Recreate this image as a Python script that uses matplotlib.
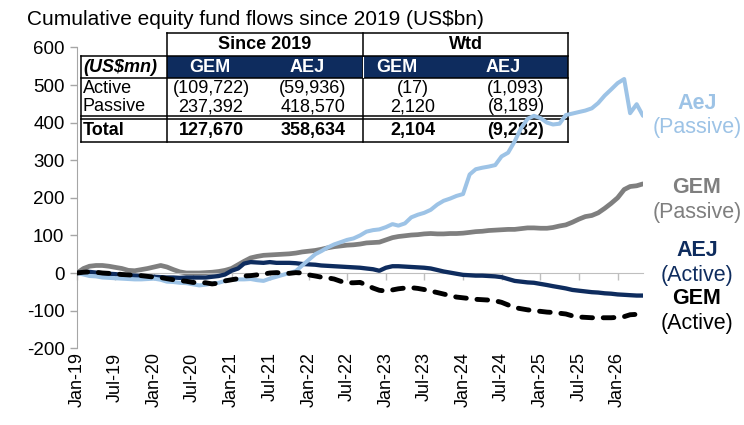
import matplotlib
matplotlib.use('Agg')
import matplotlib.pyplot as plt
import matplotlib.dates as mdates
from matplotlib.patches import Rectangle
import pandas as pd

plt.rcParams['font.family'] = ['Liberation Sans', 'DejaVu Sans']
plt.rcParams['axes.unicode_minus'] = False

# monthly readings, Jan-19 .. May-26 (US$bn)
dates = pd.date_range('2019-01-01', periods=89, freq='MS')

gem_passive = [0, 12, 18, 20, 20, 18, 15, 12, 7, 6,
               9, 12, 16, 20, 16, 9, 3, 0, 0, 0,
               1, 2, 4, 7, 12, 22, 31, 40, 44, 47,
               48, 49, 50, 51, 53, 56, 58, 60, 63, 67,
               70, 72, 74, 75, 77, 80, 81, 82, 88, 94,
               97, 99, 101, 102, 104, 105, 104, 104, 105, 105,
               106, 108, 110, 111, 113, 114, 115, 116, 116, 118,
               120, 120, 119, 119, 121, 125, 128, 135, 143, 150,
               153, 160, 172, 185, 200, 222, 230, 232, 237]
aej_passive = [0, -4, -8, -9, -12, -13, -14, -15, -16, -17,
               -17, -16, -15, -18, -23, -24, -26, -27, -30, -33,
               -31, -28, -26, -21, -18, -17, -17, -16, -19, -21,
               -15, -10, -5, 0, 5, 20, 35, 50, 58, 68,
               76, 82, 88, 92, 100, 110, 114, 116, 122, 130,
               126, 132, 148, 155, 160, 168, 182, 192, 198, 205,
               210, 262, 276, 280, 283, 287, 310, 320, 350, 385,
               410, 418, 412, 400, 395, 397, 420, 424, 428, 432,
               438, 452, 472, 488, 505, 516, 425, 449, 418]
aej_active = [0, 2, 3, 1, -1, -2, -3, -5, -6, -7,
              -8, -10, -10, -11, -12, -12, -13, -12, -12, -12,
              -12, -10, -8, -4, 6, 12, 25, 29, 28, 27,
              29, 27, 27, 27, 26, 24, 23, 22, 20, 19,
              18, 17, 16, 15, 14, 12, 10, 6, 14, 18,
              18, 17, 16, 15, 14, 12, 8, 4, 1, -2,
              -5, -6, -7, -7, -8, -9, -11, -16, -21, -23,
              -25, -26, -29, -32, -35, -38, -41, -45, -47, -49,
              -51, -52, -54, -55, -57, -58, -59, -60, -60]
gem_active = [0, 2, 3, 2, 0, -1, -2, -4, -5, -6,
              -7, -9, -11, -12, -15, -18, -20, -22, -25, -26,
              -26, -29, -27, -21, -18, -15, -8, -7, -5, -3,
              0, 1, 0, -1, 1, 0, -5, -8, -11, -13,
              -16, -22, -26, -26, -25, -32, -40, -46, -48, -45,
              -42, -40, -39, -41, -44, -48, -52, -56, -60, -64,
              -66, -68, -70, -71, -72, -74, -78, -85, -92, -95,
              -98, -100, -102, -104, -105, -107, -109, -114, -117, -118,
              -119, -119, -119, -119, -118, -116, -111, -110, -110]

tick_dates = pd.date_range('2019-01-01', '2026-01-01', freq='6MS')

# table (US$mn)
row_labels = ['Active', 'Passive', 'Total']
since_gem = [-109722, 237392, 127670]
since_aej = [-59936, 418570, 358634]
wtd_gem = [-17, 2120, 2104]
wtd_aej = [-1093, -8189, -9282]

LIGHT = '#9DC3E6'
GRAY = '#7F7F7F'
NAVY = '#0E2C5E'
AXIS = '#A6A6A6'

right_labels = [('AeJ', '(Passive)', LIGHT, 103, 127),
                ('GEM', '(Passive)', GRAY, 187, 212),
                ('AEJ', '(Active)', NAVY, 250, 275),
                ('GEM', '(Active)', 'black', 298, 323)]


def fmt(v):
    s = f'{abs(v):,}'
    return f'({s})' if v < 0 else s


W, H = 744, 425
fig = plt.figure(figsize=(W / 100, H / 100), dpi=100)

# overlay in pixel coordinates for title, table and labels
ov = fig.add_axes([0, 0, 1, 1], zorder=1)
ov.set_xlim(0, W)
ov.set_ylim(H, 0)
ov.axis('off')

ax = fig.add_axes([77 / W, 1 - 348.2 / H, 566 / W, 300.8 / H], zorder=2)
ax.patch.set_visible(False)

ax.plot(dates, gem_passive, color=GRAY, lw=3.4, solid_capstyle='round', zorder=2)
ax.plot(dates, aej_active, color=NAVY, lw=3.1, solid_capstyle='round', zorder=3)
ax.plot(dates, aej_passive, color=LIGHT, lw=2.9, solid_capstyle='round', zorder=4)
ax.plot(dates, gem_active, color='black', lw=3.5, ls=(0, (2.2, 2.2)),
        dash_capstyle='round', zorder=5)

ax.set_ylim(-200, 600)
ax.set_yticks(range(-200, 601, 100))
ax.set_xlim(dates[0], dates[-1])
ax.set_xticks(tick_dates)
for s in ['top', 'right']:
    ax.spines[s].set_visible(False)
ax.spines['left'].set_color(AXIS)
ax.spines['bottom'].set_color('#BFBFBF')
ax.spines['bottom'].set_position(('data', 0))
ax.tick_params(axis='y', colors=AXIS, labelcolor='black', labelsize=13.5,
               length=5, width=1, pad=4)
ax.tick_params(axis='x', colors='#BFBFBF', length=5, width=1, labelbottom=False)

for d in tick_dates:
    ax.text(mdates.date2num(d), -0.014, d.strftime('%b-%y'),
            transform=ax.get_xaxis_transform(), rotation=90,
            ha='center', va='top', fontsize=13)

# title
ov.text(27, 19, 'Cumulative equity fund flows since 2019 (US$bn)',
        fontsize=15, va='center', ha='left')

# table
xl, c1, c2, xr = 81, 167, 363, 568
y_top, y_hdr, y_band, y_d1, y_d2, y_bot = 33, 56, 78, 116, 119, 142
ov.add_patch(Rectangle((c1, y_hdr), xr - c1, y_band - y_hdr,
                       facecolor=NAVY, edgecolor='none'))
lk = dict(color='black', lw=1.1)
ov.plot([c1, xr], [y_top, y_top], **lk)
for y in [y_hdr, y_band, y_d1, y_d2, y_bot]:
    ov.plot([xl, xr], [y, y], **lk)
ov.plot([xl, xl], [y_hdr, y_bot], **lk)
for x in [c1, c2, xr]:
    ov.plot([x, x], [y_top, y_bot], **lk)
ov.plot([c2, c2], [y_hdr + 1, y_band - 1], color='white', lw=0.8)

fs = 13
ov.text((c1 + c2) / 2, 44.5, 'Since 2019', fontsize=fs, weight='bold',
        ha='center', va='center')
ov.text((c2 + xr) / 2, 44.5, 'Wtd', fontsize=fs, weight='bold',
        ha='center', va='center')
ov.text(xl + 2, 67, '(US$mn)', fontsize=fs, weight='bold', style='italic',
        ha='left', va='center')
for x, t in zip([210, 307, 397, 503], ['GEM', 'AEJ', 'GEM', 'AEJ']):
    ov.text(x, 67, t, fontsize=fs, weight='bold', color='white',
            ha='center', va='center')

row_y = [88, 106.5, 130.5]
cols = [(211, since_gem), (313, since_aej), (413, wtd_gem), (516, wtd_aej)]
for i, (lab, y) in enumerate(zip(row_labels, row_y)):
    w = 'bold' if lab == 'Total' else 'normal'
    ov.text(xl + 2, y, lab, fontsize=fs, weight=w, ha='left', va='center')
    for x, vals in cols:
        ov.text(x, y, fmt(vals[i]), fontsize=fs, weight=w,
                ha='center', va='center')

# series labels on the right
for name, sub, col, y1, y2 in right_labels:
    ov.text(697, y1, name, fontsize=15.5, weight='bold', color=col,
            ha='center', va='center')
    ov.text(697, y2, sub, fontsize=15.5, color=col, ha='center', va='center')

fig.savefig('out.png', dpi=100)
